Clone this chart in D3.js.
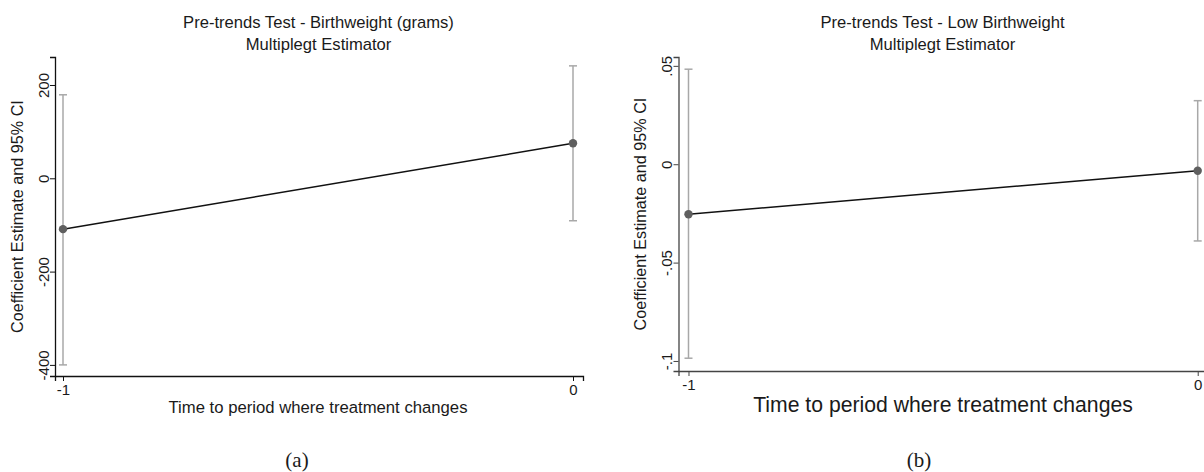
<!DOCTYPE html>
<html>
<head>
<meta charset="utf-8">
<script src="https://cdn.jsdelivr.net/npm/d3@7/dist/d3.min.js"></script>
<style>
  html, body { margin: 0; padding: 0; background: #fff; }
  svg { display: block; }
  text { font-family: "Liberation Sans", Arial, sans-serif; fill: #1a1a1a; }
</style>
</head>
<body>
<svg id="chart" width="1204" height="472"></svg>
<script>
// ---- data ----
const periods = [-1, 0];

const bwEstimate = [-109, 75];
const bwLower = [-400, -91];
const bwUpper = [179, 241];
const bwTicks = [-400, -200, 0, 200];
const bwTickLabels = ["-400", "-200", "0", "200"];

const lbwEstimate = [-0.0254, -0.0033];
const lbwLower = [-0.0986, -0.039];
const lbwUpper = [0.0483, 0.0323];
const lbwTicks = [-0.1, -0.05, 0, 0.05];
const lbwTickLabels = ["-.1", "-.05", "0", ".05"];

const xTickLabels = ["-1", "0"];

const svg = d3.select("#chart");

function panel(cfg) {
  const g = svg.append("g");
  const x = d3.scaleLinear().domain(cfg.xDomain).range([cfg.left, cfg.right]);
  const y = d3.scaleLinear().domain(cfg.yDomain).range([cfg.bottom, cfg.top]);

  // axes
  const yAxis = d3.axisLeft(y).tickValues(cfg.yTicks)
    .tickFormat((d, i) => cfg.yTickLabels[i]).tickSizeOuter(0).tickSize(5).tickPadding(3);
  const ya = g.append("g").attr("transform", `translate(${cfg.left},0)`).call(yAxis);
  ya.selectAll("path.domain").attr("stroke", cfg.axisColor).attr("stroke-width", 1.3);
  ya.selectAll(".tick line").attr("stroke", cfg.axisColor);
  ya.selectAll(".tick text")
    .attr("transform", "rotate(-90)")
    .attr("x", 0).attr("y", -cfg.yLabelGap)
    .attr("dy", "0")
    .attr("text-anchor", "middle")
    .style("font-size", "15px")
    .style("font-family", "'Liberation Sans', Arial, sans-serif")
    .attr("fill", "#1a1a1a");

  const xAxis = d3.axisBottom(x).tickValues(periods)
    .tickFormat((d, i) => xTickLabels[i]).tickSizeOuter(0).tickSize(5).tickPadding(3);
  const xa = g.append("g").attr("transform", `translate(0,${cfg.bottom})`).call(xAxis);
  xa.selectAll("path.domain").attr("stroke", cfg.axisColor).attr("stroke-width", 1.3);
  xa.selectAll(".tick line").attr("stroke", cfg.axisColor);
  xa.selectAll(".tick text")
    .style("font-size", "15px")
    .style("font-family", "'Liberation Sans', Arial, sans-serif")
    .attr("fill", "#1a1a1a");

  // CI whiskers
  const data = periods.map((p, i) => ({ p, est: cfg.est[i], lo: cfg.lo[i], hi: cfg.hi[i] }));
  const wc = "#a8a8a8";
  g.selectAll(".ci").data(data).enter().append("line")
    .attr("x1", d => x(d.p)).attr("x2", d => x(d.p))
    .attr("y1", d => y(d.lo)).attr("y2", d => y(d.hi))
    .attr("stroke", wc).attr("stroke-width", 1.5);
  ["lo", "hi"].forEach(k => {
    g.selectAll(".cap" + k).data(data).enter().append("line")
      .attr("x1", d => x(d.p) - 4).attr("x2", d => x(d.p) + 4)
      .attr("y1", d => y(d[k])).attr("y2", d => y(d[k]))
      .attr("stroke", wc).attr("stroke-width", 1.5);
  });

  // connecting line
  g.append("path").datum(data)
    .attr("d", d3.line().x(d => x(d.p)).y(d => y(d.est)))
    .attr("fill", "none").attr("stroke", "#111").attr("stroke-width", 1.5);

  // points
  g.selectAll(".pt").data(data).enter().append("circle")
    .attr("cx", d => x(d.p)).attr("cy", d => y(d.est)).attr("r", 4.2)
    .attr("fill", "#5f5f5f");

  // titles
  const cx = cfg.titleX;
  g.append("text").attr("x", cx).attr("y", 28).attr("text-anchor", "middle")
    .style("font-size", "16.6px").text(cfg.title1);
  g.append("text").attr("x", cx).attr("y", 50).attr("text-anchor", "middle")
    .style("font-size", "16.6px").text(cfg.title2);

  // y title
  g.append("text")
    .attr("transform", `translate(${cfg.yTitleX},${(cfg.top + cfg.bottom) / 2}) rotate(-90)`)
    .attr("text-anchor", "middle")
    .style("font-size", "16.2px").text("Coefficient Estimate and 95% CI");

  // x title
  g.append("text").attr("x", cfg.xTitleX).attr("y", cfg.xTitleY).attr("text-anchor", "middle")
    .style("font-size", cfg.xTitleSize).text("Time to period where treatment changes");

  // caption
  g.append("text").attr("x", cfg.capX).attr("y", 467).attr("text-anchor", "middle")
    .style("font-family", "'Liberation Serif', 'DejaVu Serif', serif")
    .style("font-size", "21px").text(cfg.caption);
}

panel({
  left: 55, right: 583, top: 57, bottom: 376,
  xDomain: [-1 - 8 / 510, 10 / 510],
  yDomain: [-423.8, 260],
  yTicks: bwTicks, yTickLabels: bwTickLabels,
  est: bwEstimate, lo: bwLower, hi: bwUpper,
  axisColor: "#111",
  yLabelGap: 6,
  title1: "Pre-trends Test - Birthweight (grams)",
  title2: "Multiplegt Estimator",
  titleX: 318.5,
  yTitleX: 23,
  xTitleX: 318, xTitleY: 412.5, xTitleSize: "16.7px",
  caption: "(a)", capX: 297
});

panel({
  left: 678.5, right: 1207, top: 57, bottom: 371,
  xDomain: [-1 - 10 / 509.4, (1207 - 1197.7) / 509.4],
  yDomain: [-0.1051, 0.0545],
  yTicks: lbwTicks, yTickLabels: lbwTickLabels,
  est: lbwEstimate, lo: lbwLower, hi: lbwUpper,
  axisColor: "#444",
  yLabelGap: 7,
  title1: "Pre-trends Test - Low Birthweight",
  title2: "Multiplegt Estimator",
  titleX: 942.5,
  yTitleX: 646,
  xTitleX: 943, xTitleY: 411.5, xTitleSize: "21.2px",
  caption: "(b)", capX: 919
});
</script>
</body>
</html>
